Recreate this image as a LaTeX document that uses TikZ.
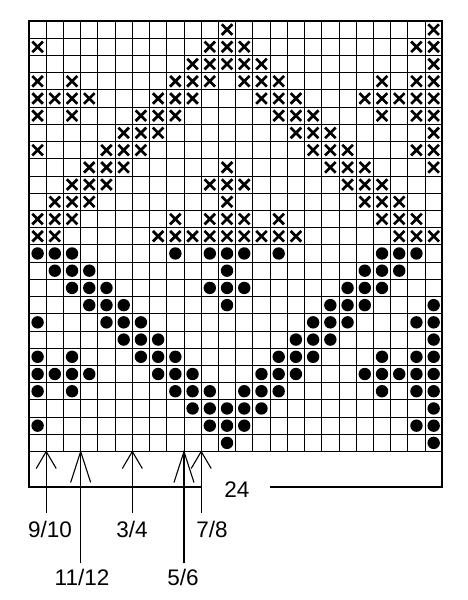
\documentclass[tikz,border=0pt]{standalone}
\usepackage{fontspec}
\setmainfont{Liberation Sans}
\usetikzlibrary{positioning, calc}

\begin{document}
\begin{tikzpicture}[x=1pt,y=-1pt,
    grid line/.style={line width=0.9pt},
    chart frame/.style={line width=1.7pt},
    cross mark/.style={line width=2.7pt},
    dot mark/.style={fill=black},
    pointer/.style={line width=1.1pt},
    count label/.style={font=\fontsize{22.5}{27}\selectfont, inner sep=0pt}
]
\useasboundingbox (0,0) rectangle (467,600);
\def\cw{17.22}
\coordinate (top left) at (29,21);
\coordinate (bottom right) at ({29+24*\cw},{21+25*\cw});

% grid
\foreach \i in {1,...,23}
    \draw[grid line] ({29+\i*\cw},21) -- ({29+\i*\cw},{21+25*\cw});
\foreach \j in {1,...,24}
    \draw[grid line] (29,{21+\j*\cw}) -- ({29+24*\cw},{21+\j*\cw});
\draw[chart frame] (top left) rectangle (bottom right);

% crosses in the upper half, dots mirrored in the lower half
\foreach \r/\cols in {1/{12,24}, 2/{1,11,12,13,23,24}, 3/{10,11,12,13,14,24},
    4/{1,3,9,10,11,13,14,15,21,23,24}, 5/{1,2,3,4,8,9,10,14,15,16,20,21,22,23,24},
    6/{1,3,7,8,9,15,16,17,21,23,24}, 7/{6,7,8,16,17,18,24},
    8/{1,5,6,7,17,18,19,23,24}, 9/{4,5,6,12,18,19,20,24},
    10/{3,4,5,11,12,13,19,20,21}, 11/{2,3,4,12,20,21,22},
    12/{1,2,3,9,11,12,13,15,21,22,23}, 13/{1,2,8,9,10,11,12,13,14,15,16,22,23,24}}
{
    \foreach \c in \cols {
        \draw[cross mark] ({29+(\c-0.5)*\cw-5.3},{21+(\r-0.5)*\cw-5.3}) -- ++(10.6,10.6)
            ({29+(\c-0.5)*\cw-5.3},{21+(\r-0.5)*\cw+5.3}) -- ++(10.6,-10.6);
        \ifnum\r<13
            \fill[dot mark] ({29+(\c-0.5)*\cw},{21+(25.5-\r)*\cw}) circle (6.2);
        \fi
    }
}

% box under the chart
\coordinate (box bl) at (29,486.7);
\coordinate (box br) at ({29+24*\cw},486.7);
\node[count label] (width) at (237,490) {24};
\draw[chart frame] (29,{21+25*\cw}) -- (box bl) -- ({29+10*\cw},486.7);
\draw[chart frame] (270,486.7) -- (box br) -- ({29+24*\cw},{21+25*\cw});

% pointers with sizes
\foreach \k/\p/\q/\len/\head/\lx/\ly in {1/9/10/513/17/50/529, 3/11/12/563/31/82/577,
    6/3/4/513/17/132/529, 9/5/6/563/31/183/577, 10/7/8/513/17/212/529}
{
    \coordinate (tip\k) at ({29+\k*\cw},{21+25*\cw});
    \coordinate (foot\k) at ({29+\k*\cw},\len);
    \draw[pointer] (foot\k) -- (tip\k);
    \draw[pointer] ($(tip\k)+(-10,\head)$) -- (tip\k) -- ($(tip\k)+(10,\head)$);
    \node[count label] (size\k) at (\lx,\ly) {\p/\q};
}
\end{tikzpicture}
\end{document}
